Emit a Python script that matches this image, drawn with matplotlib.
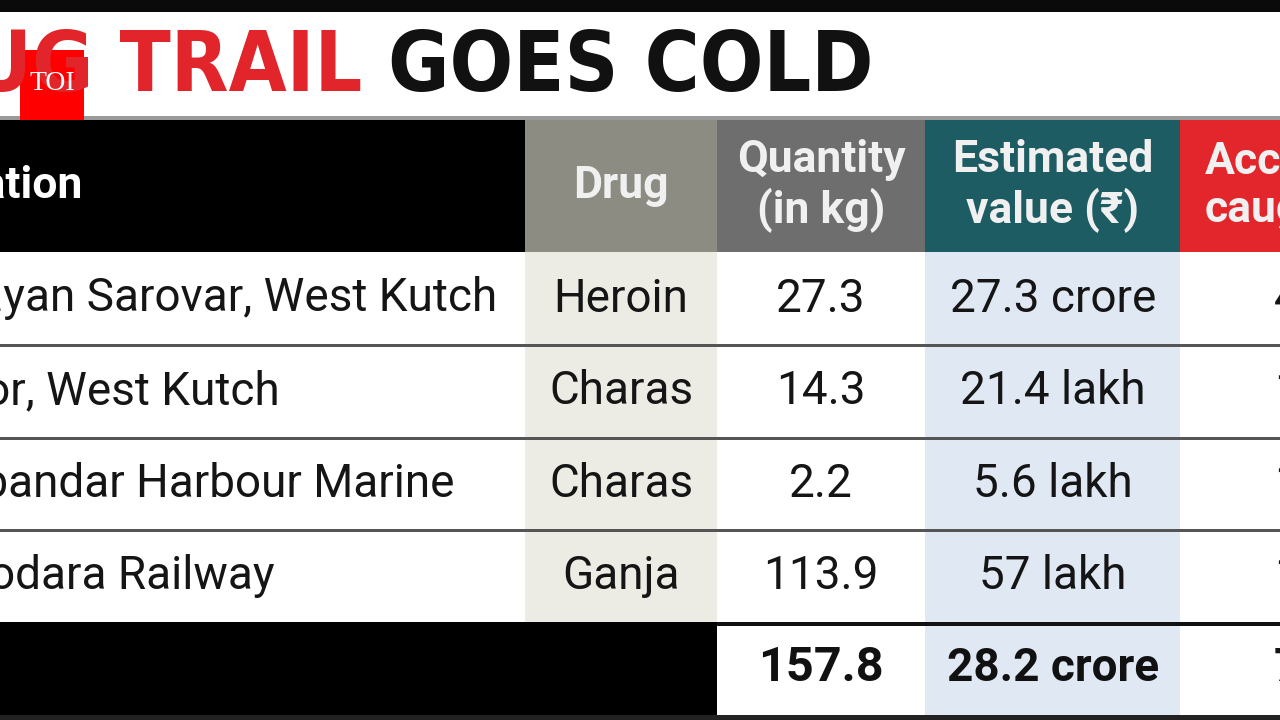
import matplotlib
matplotlib.use("Agg")
import matplotlib.pyplot as plt
from matplotlib.patches import Rectangle

locations = ["Narayan Sarovar, West Kutch", "Jakhau Harbor, West Kutch",
             "Porbandar Harbour Marine", "Vadodara Railway"]
drugs = ["Heroin", "Charas", "Charas", "Ganja"]
quantity = ["27.3", "14.3", "2.2", "113.9"]
value = ["27.3 crore", "21.4 lakh", "5.6 lakh", "57 lakh"]
accused = ["4", "1", "1", "1", "7"]
total_qty = "157.8"
total_val = "28.2 crore"
headers = ["Location", "Drug", "Quantity\n(in kg)", "Estimated\nvalue (₹)", "Accused\ncaught"]

fig = plt.figure(figsize=(12.8, 7.2), dpi=100)
ax = fig.add_axes([0, 0, 1, 1])
ax.set_xlim(0, 1280); ax.set_ylim(720, 0); ax.axis("off")

def rect(x0, y0, x1, y1, c):
    ax.add_patch(Rectangle((x0, y0), x1 - x0, y1 - y0, color=c, lw=0))

F = "Roboto"
rect(0, 0, 1280, 720, "white")
rect(0, 0, 1280, 12, "#0a0a0a")
rect(0, 116, 1280, 120, "#9a9a9a")
# title
ax.text(362, 68, "DRUG TRAIL", color="#e2252b", fontsize=60, fontweight="bold",
        family="DejaVu Sans", fontstretch="condensed", ha="right", va="center")
ax.text(388, 68, "GOES COLD", color="#111111", fontsize=60, fontweight="bold",
        family="DejaVu Sans", fontstretch="condensed", ha="left", va="center")

cols = [0, 525, 717, 925, 1180, 1280]
hcol = ["#000000", "#8c8c82", "#6e6e6e", "#1e5c63", "#e3262b"]
bcol = ["white", "#ecece4", "white", "#dfe8f3", "white"]
for i in range(5):
    rect(cols[i], 120, cols[i + 1], 252, hcol[i])
ax.text(82, 186, headers[0], color="white", fontsize=32, fontweight="bold", family=F, ha="right", va="center")
ax.text(621, 186, headers[1], color="#f0f0f0", fontsize=32, fontweight="bold", family=F, ha="center", va="center")
ax.text(821, 186, headers[2], color="#f0f0f0", fontsize=32, fontweight="bold", family=F, ha="center", va="center", linespacing=1.2)
ax.text(1053, 186, headers[3], color="#f0f0f0", fontsize=32, fontweight="bold", family=F, ha="center", va="center", linespacing=1.2)
ax.text(1205, 186, headers[4], color="#f0f0f0", fontsize=32, fontweight="bold", family=F, ha="left", va="center", linespacing=1.2)

rows = [252, 345, 438, 530, 622]
loc_right = [497, 280, 455, 275]
for r in range(4):
    y0, y1 = rows[r], rows[r + 1]
    for i in range(5):
        rect(cols[i], y0, cols[i + 1], y1, bcol[i])
    ym = (y0 + y1) / 2
    ax.text(loc_right[r], ym, locations[r], fontsize=33, family=F, ha="right", va="center", color="#151515")
    ax.text(621, ym, drugs[r], fontsize=33, family=F, ha="center", va="center", color="#151515")
    ax.text(821, ym, quantity[r], fontsize=33, family=F, ha="center", va="center", color="#151515")
    ax.text(1053, ym, value[r], fontsize=33, family=F, ha="center", va="center", color="#151515")
    ax.text(1274, ym, accused[r], fontsize=33, family=F, ha="left", va="center", color="#151515")
    if r > 0:
        rect(0, y0 - 1.5, 1280, y0 + 1.5, "#555555")
rect(0, 622, 1280, 626, "#111111")
rect(0, 622, 717, 715, "#000000")
rect(717, 626, 925, 715, "white")
rect(925, 626, 1180, 715, "#dfe8f3")
rect(1180, 626, 1280, 715, "white")
ax.text(821, 668, total_qty, fontsize=35, fontweight="bold", family=F, ha="center", va="center", color="#111111")
ax.text(1053, 668, total_val, fontsize=33, fontweight="bold", family=F, ha="center", va="center", color="#111111")
ax.text(1274, 668, accused[4], fontsize=33, fontweight="bold", family=F, ha="left", va="center", color="#151515")
rect(0, 715, 1280, 720, "#222222")
rect(20, 50, 84, 120, "#ff0000")
ax.text(52, 83, "TOI", color="white", fontsize=20, family="Liberation Serif", ha="center", va="center")

fig.savefig("out.png", dpi=100)
